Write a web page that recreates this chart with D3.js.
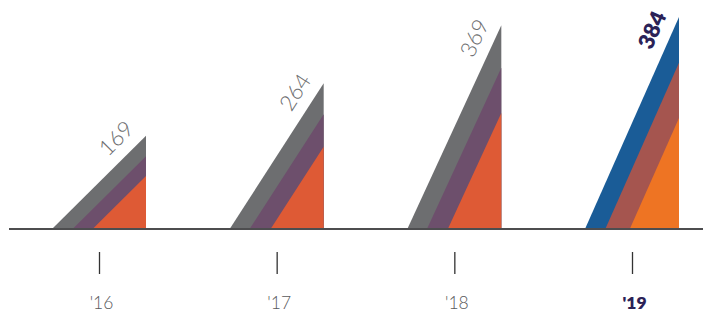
<!DOCTYPE html>
<html>
<head>
<meta charset="utf-8">
<script src="https://cdn.jsdelivr.net/npm/d3@7"></script>
<style>
  html, body { margin: 0; padding: 0; background: #fff; }
  svg { display: block; }
  text { font-family: Lato, "Open Sans", sans-serif; }
</style>
</head>
<body>
<svg id="chart" width="703" height="321"></svg>
<script>
// Yearly totals with two nested sub-totals per year
const years = ["'16", "'17", "'18", "'19"];
const totals = [169, 264, 369, 384];
const middle = [132, 208, 292, 301];
const inner = [96, 149, 210, 201];

// Palettes: past years in muted tones, current year highlighted
const pastColors = ["#6d6e70", "#6d4f6c", "#de5a35"];
const currentColors = ["#1a5c97", "#a5554f", "#ee7423"];
const currentYear = "'19";

const width = 703, height = 321;
const baseY = 229;
const triWidth = 94;

const svg = d3.select("#chart");

const x = d3.scalePoint().domain(years).range([99, 632]);
const y = d3.scaleLinear().domain([0, 384]).range([baseY, 17]);

// Each layer is a right triangle sharing the right edge; the hypotenuses stay parallel
function triangle(i, value) {
  const right = x(years[i]) + triWidth / 2;
  const w = triWidth * value / totals[i];
  return [[right - w, baseY], [right, y(value)], [right, baseY]];
}

const line = d3.line();

years.forEach((yr, i) => {
  const colors = yr === currentYear ? currentColors : pastColors;
  const layers = [totals[i], middle[i], inner[i]];
  const g = svg.append("g");
  layers.forEach((v, k) => {
    g.append("path")
      .attr("d", line(triangle(i, v)) + "Z")
      .attr("fill", colors[k]);
  });

  // Value label running along the hypotenuse
  const right = x(yr) + triWidth / 2;
  const top = y(totals[i]);
  const h = baseY - top;
  const len = Math.hypot(triWidth, h);
  const dx = -triWidth / len, dy = h / len;   // down the slope
  const nx = -dy, ny = dx;                      // away from the slope (up-left)
  const along = 23, perp = 20;
  const cx = right + dx * along + nx * perp;
  const cy = top + dy * along + ny * perp;
  const angle = -Math.atan2(h, triWidth) * 180 / Math.PI;
  const isCurrent = yr === currentYear;
  svg.append("text")
    .attr("transform", `translate(${cx},${cy}) rotate(${angle})`)
    .attr("text-anchor", "middle")
    .attr("dominant-baseline", "central")
    .attr("font-size", 22)
    .attr("font-weight", isCurrent ? 800 : 300)
    .attr("fill", isCurrent ? "#2b2257" : "#6d6e70")
    .text(totals[i]);
});

// Baseline
svg.append("line")
  .attr("x1", 9).attr("x2", width)
  .attr("y1", baseY).attr("y2", baseY)
  .attr("stroke", "#4d4d4f")
  .attr("stroke-width", 2);

// Year axis, detached below the baseline
const axis = svg.append("g")
  .attr("transform", "translate(0,252)")
  .call(d3.axisBottom(x).tickSize(22).tickPadding(0));
axis.select(".domain").remove();
axis.selectAll(".tick line").attr("stroke", "#333").attr("stroke-width", 1.3);
axis.selectAll(".tick text")
  .attr("x", 2)
  .attr("y", 57)
  .attr("dy", 0)
  .attr("font-size", 17.5)
  .attr("font-family", "Lato, 'Open Sans', sans-serif")
  .attr("font-weight", d => d === currentYear ? 800 : 300)
  .attr("fill", d => d === currentYear ? "#2b2257" : "#58595b");
</script>
</body>
</html>
